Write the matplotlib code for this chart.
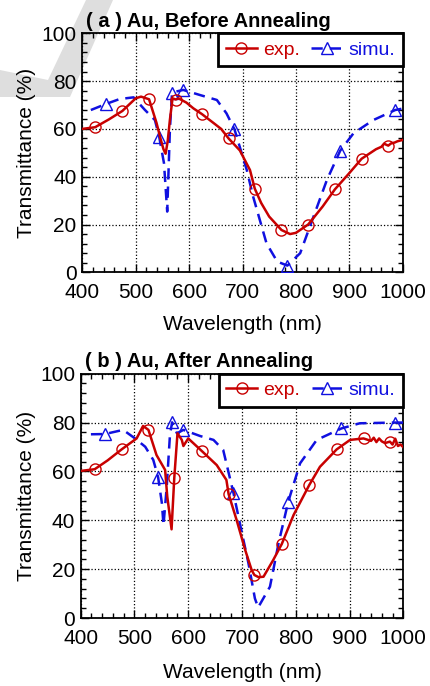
import numpy as np
import matplotlib
matplotlib.use("Agg")
import matplotlib.pyplot as plt
from matplotlib.patches import Polygon
from matplotlib.ticker import MultipleLocator

plt.rcParams['font.family'] = ['Liberation Sans', 'DejaVu Sans']

# ---- (a) before annealing ----
exp_a_wl = [400, 424, 450, 475, 500, 510, 525, 539, 547, 552, 556, 560, 564, 569, 575,
            580, 595, 608, 624, 645, 660, 674, 695, 714, 723, 735, 750, 773, 789, 800,
            823, 850, 873, 900, 923, 950, 960, 965, 973, 978, 985, 990, 1000]
exp_a_t = [60.0, 60.7, 64.0, 67.5, 72.8, 73.5, 72.4, 62.5, 55.5, 51.5, 49.6, 55.0, 63.7, 72.8, 72.3,
           72.8, 71.0, 68.6, 66.2, 62.6, 60.0, 56.0, 51.0, 42.8, 35.0, 29.0, 23.3, 17.7, 16.0, 16.5,
           20.0, 27.5, 34.7, 41.5, 47.5, 51.5, 52.5, 53.8, 53.0, 53.9, 54.3, 54.8, 55.4]
exp_a_marks = [424, 475, 525, 575, 624, 674, 723, 773, 823, 873, 923, 973]

sim_a_wl = [416, 444, 470, 496, 517, 536, 544, 553, 559, 564, 568, 573, 589, 620, 652,
            670, 685, 708, 720, 745, 765, 784, 808, 833, 858, 883, 908, 945, 986, 1000]
sim_a_t = [67.9, 70.4, 72.5, 73.2, 68.0, 63.7, 56.7, 45.6, 25.4, 59.5, 75.0, 75.5, 76.3, 74.2, 72.1,
           66.5, 59.8, 42.8, 31.6, 12.1, 4.5, 2.8, 8.0, 23.3, 38.6, 50.9, 58.2, 63.7, 67.9, 68.5]
sim_a_marks = [444, 544, 568, 589, 685, 784, 883, 986]

# ---- (b) after annealing ----
exp_b_wl = [400, 426, 450, 476, 504, 516, 526, 541, 557, 561, 569, 574, 580, 588, 591,
            600, 625, 653, 671, 675, 690, 706, 718, 723, 731, 740, 758, 774, 796, 825,
            845, 876, 901, 926, 940, 945, 950, 955, 960, 966, 975, 980, 985, 990, 995, 1000]
exp_b_t = [60.2, 60.9, 64.5, 69.0, 73.5, 78.6, 77.0, 66.7, 60.6, 49.7, 36.3, 57.2, 75.6, 72.9, 70.4,
           73.5, 68.4, 62.6, 56.5, 50.8, 40.1, 27.8, 19.6, 17.6, 16.7, 16.9, 23.7, 30.3, 42.2, 54.4,
           61.9, 69.0, 72.9, 73.5, 72.5, 73.8, 72.0, 73.5, 72.3, 71.6, 72.2, 71.0, 73.4, 70.4, 71.0, 69.9]
exp_b_marks = [426, 476, 526, 574, 625, 675, 723, 774, 825, 876, 926, 975]

sim_b_wl = [419, 445, 479, 501, 520, 535, 544, 551, 554, 560, 566, 570, 579, 591, 622,
            647, 665, 684, 696, 712, 724, 730, 752, 768, 786, 808, 839, 885, 919, 984, 1000]
sim_b_t = [75.2, 75.3, 77.0, 73.5, 70.1, 64.7, 57.6, 47.0, 38.0, 53.7, 74.9, 80.1, 75.6, 77.0, 74.5,
           72.9, 68.8, 51.3, 38.8, 22.4, 8.0, 4.3, 12.8, 30.6, 47.6, 63.3, 72.9, 77.6, 79.7, 80.0, 80.0]
sim_b_marks = [445, 544, 570, 591, 684, 786, 885, 984]

titles = ["( a ) Au, Before Annealing", "( b ) Au, After Annealing"]

RED = '#c80000'
BLUE = '#1010e0'

fig = plt.figure(figsize=(4.30, 6.86), dpi=100)
W, H = 430, 686

# light grey watermark stroke in the top-left corner of the page
wm = [(86, 0), (113, 0), (70, 97), (0, 97), (0, 70), (48, 80)]
fig.patches.append(Polygon([(x / W, 1 - y / H) for x, y in wm], closed=True,
                           transform=fig.transFigure, facecolor='#dedede',
                           edgecolor='none', zorder=-5))

# axes boxes in pixels: left, right, top, bottom
boxes = [(82.3, 402.7, 33.3, 272.3), (80.7, 403.3, 373.7, 618.0)]
xlab_y = [325, 673]
data = [(exp_a_wl, exp_a_t, exp_a_marks, sim_a_wl, sim_a_t, sim_a_marks),
        (exp_b_wl, exp_b_t, exp_b_marks, sim_b_wl, sim_b_t, sim_b_marks)]

for (l, r, t, b), xy, title, (ew, et, em, sw, st, sm) in zip(boxes, xlab_y, titles, data):
    ax = fig.add_axes([l / W, 1 - b / H, (r - l) / W, (b - t) / H])
    ax.set_facecolor('none')

    ax.plot(sw, st, color=BLUE, lw=1.8, dashes=(4.5, 2.8), marker='^', ms=8,
            mfc='none', mec=BLUE, mew=1.0,
            markevery=list(np.where(np.isin(sw, sm))[0]), label='simu.', zorder=3)
    ax.plot(ew, et, color=RED, lw=1.8, marker='o', ms=8, mfc='none', mec=RED, mew=1.0,
            markevery=list(np.where(np.isin(ew, em))[0]), label='exp.', zorder=4)

    ax.set_xlim(400, 1000)
    ax.set_ylim(0, 100)
    ax.xaxis.set_major_locator(MultipleLocator(100))
    ax.xaxis.set_minor_locator(MultipleLocator(20))
    ax.yaxis.set_major_locator(MultipleLocator(20))
    ax.yaxis.set_minor_locator(MultipleLocator(4))
    ax.tick_params(which='both', direction='in', top=True, right=True, labelsize=15, width=1)
    ax.tick_params(which='major', length=6)
    ax.tick_params(which='minor', length=3.5)
    ax.tick_params(axis='x', pad=8)
    ax.tick_params(axis='y', pad=4)
    ax.grid(True, which='major', color='black', linestyle=':', lw=0.9)
    for s in ax.spines.values():
        s.set_linewidth(1.3)

    ax.set_xlabel('Wavelength (nm)', fontsize=15)
    ax.set_ylabel('Transmittance (%)', fontsize=15)
    ax.xaxis.label.set_va('center')
    ax.yaxis.label.set_va('center')
    ax.xaxis.set_label_coords(0.5, -(xy - b) / (b - t))
    ax.yaxis.set_label_coords(-(l - 27) / (r - l), 0.5)

    ax.text(0.012, 1.028, title, transform=ax.transAxes, fontsize=14.5,
            fontweight='bold', ha='left', va='baseline')

    h, lab = ax.get_legend_handles_labels()
    leg = ax.legend(h[::-1], lab[::-1], loc='upper right', ncol=2, fontsize=14,
                    frameon=True, fancybox=False, borderaxespad=0, handlelength=1.6,
                    handletextpad=0.3, columnspacing=0.6, borderpad=0.4,
                    labelcolor='linecolor')
    leg.get_frame().set_edgecolor('black')
    leg.get_frame().set_linewidth(2)
    leg.get_frame().set_alpha(1)

fig.savefig('out.png', dpi=100)
